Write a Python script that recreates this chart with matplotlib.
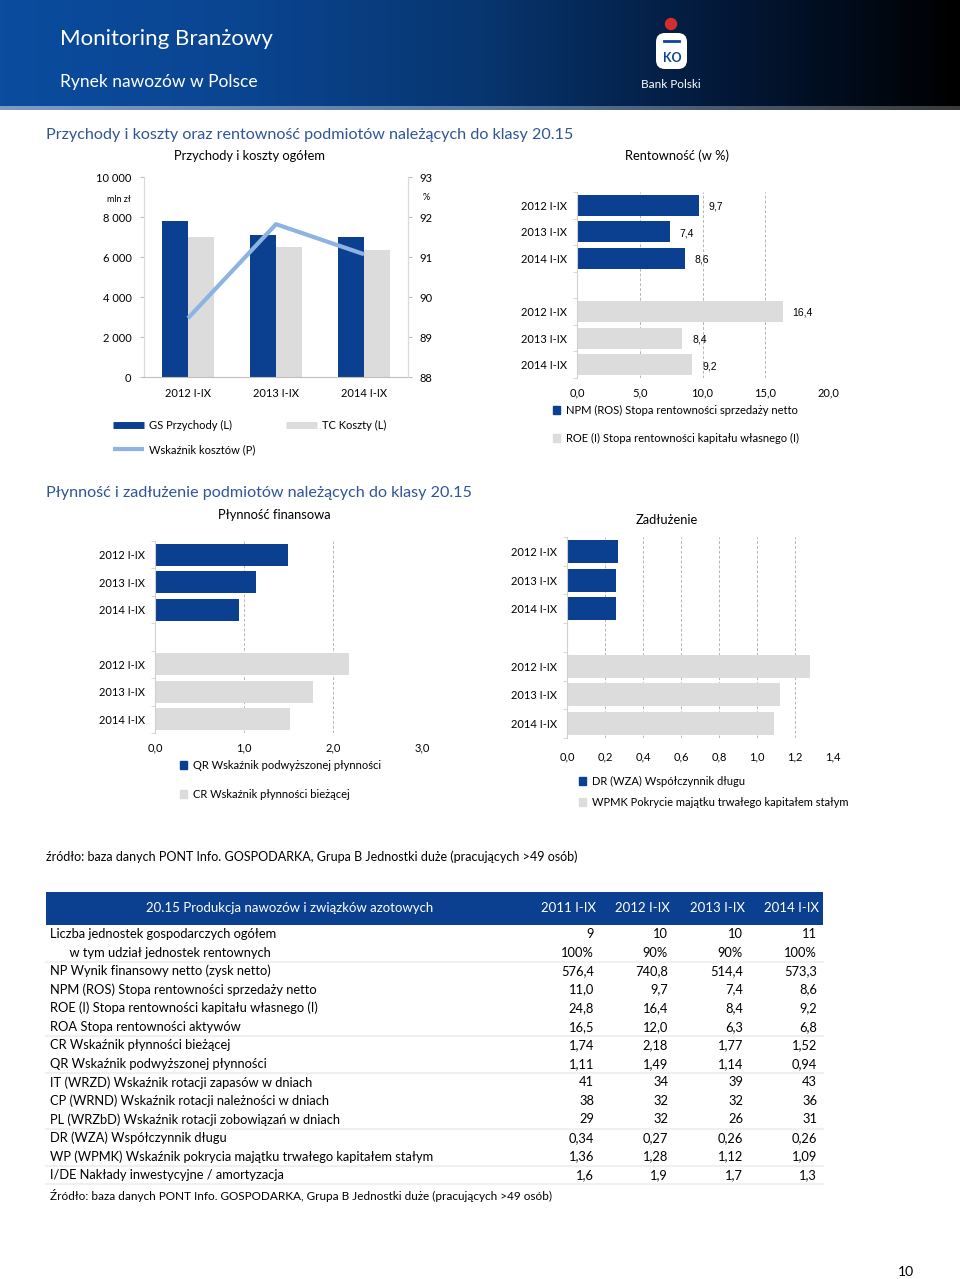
import numpy as np
import matplotlib.pyplot as plt
from matplotlib.colors import LinearSegmentedColormap
from matplotlib.lines import Line2D
from matplotlib.patches import Patch, Circle, FancyBboxPatch, Rectangle

plt.rcParams['font.family'] = ['Lato', 'DejaVu Sans']

W, H = 960, 1279
BLUE = '#0b3f8f'
GRAY = '#dcdcdc'
LINE = '#8db3e2'
TITLE = '#2f5597'

# dane do wykresów
years = ['2012 I-IX', '2013 I-IX', '2014 I-IX']
gs_przychody = [7810, 7100, 6980]
tc_koszty = [6980, 6480, 6370]
wsk_kosztow = [89.47, 91.82, 91.07]

# dane do tabeli
table_years = ['2011 I-IX', '2012 I-IX', '2013 I-IX', '2014 I-IX']
liczba = [9, 10, 10, 11]
udzial = [100, 90, 90, 100]
np_wynik = [576.4, 740.8, 514.4, 573.3]
npm = [11.0, 9.7, 7.4, 8.6]
roe = [24.8, 16.4, 8.4, 9.2]
roa = [16.5, 12.0, 6.3, 6.8]
cr = [1.74, 2.18, 1.77, 1.52]
qr = [1.11, 1.49, 1.14, 0.94]
it_wrzd = [41, 34, 39, 43]
cp_wrnd = [38, 32, 32, 36]
pl_wrzbd = [29, 32, 26, 31]
dr = [0.34, 0.27, 0.26, 0.26]
wp = [1.36, 1.28, 1.12, 1.09]
ide = [1.6, 1.9, 1.7, 1.3]


def pl(v, d=1):
    return f'{v:.{d}f}'.replace('.', ',')


fig = plt.figure(figsize=(9.6, 12.79), dpi=100)


def px_axes(x0, y0, x1, y1):
    return fig.add_axes([x0 / W, 1 - y1 / H, (x1 - x0) / W, (y1 - y0) / H])


# tło / nagłówek
bg = fig.add_axes([0, 0, 1, 1])
grad = LinearSegmentedColormap.from_list('hdr', ['#0b4c9e', '#0a4591', '#073670', '#03193a', '#000000'])
bg.imshow(np.linspace(0, 1, 256)[None, :], cmap=grad, extent=(0, W, 106, 0), aspect='auto')
strip = LinearSegmentedColormap.from_list('strip', ['#7d9cc4', '#5b7aa3', '#3a3a3a'])
bg.imshow(np.linspace(0, 1, 256)[None, :], cmap=strip, extent=(0, W, 110, 106), aspect='auto')
bg.set_xlim(0, W)
bg.set_ylim(H, 0)
bg.axis('off')

bg.text(60, 39, 'Monitoring Branżowy', color='white', fontsize=16, va='center')
bg.text(60, 82, 'Rynek nawozów w Polsce', color='white', fontsize=12.5, va='center')

# logo (uproszczone)
bg.add_patch(Circle((671, 24), 5.5, color='#d42d2d'))
bg.add_patch(FancyBboxPatch((656, 33), 31, 36, boxstyle='round,pad=0,rounding_size=9',
                            fc='white', ec='none'))
bg.plot([664, 679], [41, 41], color='#0a4591', lw=2)
bg.text(672, 58, 'KO', color='#0a4591', fontsize=9, fontweight='bold', ha='center', va='center')
bg.text(671, 84, 'Bank Polski', color='white', fontsize=8.5, ha='center', va='center')

bg.text(46, 135, 'Przychody i koszty oraz rentowność podmiotów należących do klasy 20.15',
        color=TITLE, fontsize=11.6, va='center')
bg.text(46, 493, 'Płynność i zadłużenie podmiotów należących do klasy 20.15',
        color=TITLE, fontsize=11.6, va='center')
bg.text(249, 156, 'Przychody i koszty ogółem', fontsize=9.3, ha='center', va='center')
bg.text(677, 156, 'Rentowność (w %)', fontsize=9.3, ha='center', va='center')
bg.text(274, 515, 'Płynność finansowa', fontsize=9.3, ha='center', va='center')
bg.text(667, 520, 'Zadłużenie', fontsize=9.3, ha='center', va='center')
bg.text(119, 200, 'mln zł', fontsize=6.5, ha='center', va='center')
bg.text(426, 197, '%', fontsize=6.5, ha='center', va='center')
bg.text(46, 857, 'źródło: baza danych PONT Info. GOSPODARKA, Grupa B Jednostki duże (pracujących >49 osób)',
        fontsize=9, va='center')
bg.text(906, 1272, '10', fontsize=10, ha='center', va='center')

# wykres 1: przychody i koszty
ax1 = px_axes(144, 177, 408, 377)
x = np.arange(len(years))
ax1.bar(x - 0.145, gs_przychody, width=0.29, color=BLUE, zorder=2)
ax1.bar(x + 0.145, tc_koszty, width=0.29, color=GRAY, zorder=2)
ax1.set_xlim(-0.5, 2.5)
ax1.set_ylim(0, 10000)
yt = list(range(0, 10001, 2000))
ax1.set_yticks(yt, [f'{v:,}'.replace(',', ' ') for v in yt])
ax1.set_xticks(x, years)
ax1.tick_params(axis='x', length=0, pad=8, labelsize=8)
ax1.tick_params(axis='y', length=3, pad=6, labelsize=8, color='#bfbfbf')
for s in ['top', 'right']:
    ax1.spines[s].set_visible(False)
ax1.spines['left'].set_color('#d9d9d9')
ax1.spines['bottom'].set_color('#bfbfbf')

ax1r = ax1.twinx()
ax1r.plot(x, wsk_kosztow, color=LINE, lw=3, solid_capstyle='butt')
ax1r.set_ylim(88, 93)
ax1r.set_yticks(range(88, 94))
ax1r.tick_params(axis='y', length=3, pad=5, labelsize=8, color='#bfbfbf')
for s in ['top', 'left', 'bottom']:
    ax1r.spines[s].set_visible(False)
ax1r.spines['right'].set_color('#d9d9d9')

h1 = [Line2D([], [], color=BLUE, lw=5, solid_capstyle='butt'),
      Line2D([], [], color=LINE, lw=3, solid_capstyle='butt'),
      Line2D([], [], color=GRAY, lw=5, solid_capstyle='butt')]
fig.legend(h1, ['GS Przychody (L)', 'Wskaźnik kosztów (P)', 'TC Koszty (L)'], ncol=2,
           loc='upper left', bbox_to_anchor=(113 / W, 1 - 420 / H), frameon=False,
           fontsize=8, handlelength=2.8, handletextpad=0.4, columnspacing=2.8,
           labelspacing=1.2, borderpad=0, borderaxespad=0)


# wykresy poziome
def hbar_chart(box, s1, s2, xmax, step, xpad, leg_labels, leg_xy, leg_sp, values=False):
    ax = px_axes(*box)
    pos1, pos2 = [0, 1, 2], [4, 5, 6]
    ax.barh(pos1, s1, height=0.8, color=BLUE, zorder=2)
    ax.barh(pos2, s2, height=0.8, color=GRAY, zorder=2)
    ax.set_ylim(6.5, -0.5)
    ax.set_yticks(pos1 + pos2, years + years)
    ax.set_yticks([-0.5 + i for i in range(8)], minor=True)
    ax.set_xlim(0, xmax)
    ticks = np.round(np.arange(0, xmax + step / 2, step), 2)
    ax.set_xticks(ticks, [pl(t) for t in ticks])
    ax.grid(axis='x', color='#b5b5b5', linestyle=(0, (3, 2)), lw=0.7)
    ax.set_axisbelow(True)
    for s in ['top', 'right', 'bottom']:
        ax.spines[s].set_visible(False)
    ax.spines['left'].set_color('#d0d0d0')
    ax.tick_params(axis='y', which='major', length=0, pad=7, labelsize=8)
    ax.tick_params(axis='y', which='minor', length=3, color='#d0d0d0')
    ax.tick_params(axis='x', length=0, pad=xpad, labelsize=8)
    if values:
        for p, v in zip(pos1 + pos2, list(s1) + list(s2)):
            ax.annotate(pl(v), (v, p), xytext=(7, -1), textcoords='offset points',
                        ha='left', va='center', fontsize=7.5, family=['Liberation Sans'])
    hh = [Patch(color=BLUE), Patch(color=GRAY)]
    fig.legend(hh, leg_labels, loc='upper left', bbox_to_anchor=(leg_xy[0] / W, 1 - leg_xy[1] / H),
               frameon=False, fontsize=8, handlelength=0.65, handleheight=0.65,
               handletextpad=0.5, labelspacing=leg_sp, borderpad=0, borderaxespad=0)
    return ax


hbar_chart((577, 192, 828, 378), npm[1:], roe[1:], 20, 5, 7,
           ['NPM (ROS) Stopa rentowności sprzedaży netto',
            'ROE (I) Stopa rentowności kapitału własnego (I)'], (553, 405), 1.5, values=True)
hbar_chart((155, 541, 422, 733), qr[1:], cr[1:], 3, 1, 7,
           ['QR Wskaźnik podwyższonej płynności', 'CR Wskaźnik płynności bieżącej'], (180, 760), 1.6)
hbar_chart((567, 537, 833, 738), dr[1:], wp[1:], 1.4, 0.2, 10,
           ['DR (WZA) Współczynnik długu', 'WPMK Pokrycie majątku trwałego kapitałem stałym'], (579, 776), 0.9)

# tabela
bg.add_patch(Rectangle((46, 892), 777, 33, fc=BLUE, ec='none'))
bg.text(290, 908, '20.15 Produkcja nawozów i związków azotowych', color='white',
        fontsize=9.5, ha='center', va='center')
col_right = [594, 668, 743, 817]
for cx, yl in zip(col_right, table_years):
    bg.text(cx + 2, 908, yl, color='white', fontsize=9.5, ha='right', va='center')

f_int = lambda v: f'{v:d}'
f_pct = lambda v: f'{v:d}%'
f_1 = lambda v: pl(v, 1)
f_2 = lambda v: pl(v, 2)
rows = [
    ('Liczba jednostek gospodarczych ogółem', liczba, f_int),
    ('      w tym udział jednostek rentownych', udzial, f_pct),
    ('NP Wynik finansowy netto (zysk netto)', np_wynik, f_1),
    ('NPM (ROS) Stopa rentowności sprzedaży netto', npm, f_1),
    ('ROE (I) Stopa rentowności kapitału własnego (I)', roe, f_1),
    ('ROA Stopa rentowności aktywów', roa, f_1),
    ('CR Wskaźnik płynności bieżącej', cr, f_2),
    ('QR Wskaźnik podwyższonej płynności', qr, f_2),
    ('IT (WRZD) Wskaźnik rotacji zapasów w dniach', it_wrzd, f_int),
    ('CP (WRND) Wskaźnik rotacji należności w dniach', cp_wrnd, f_int),
    ('PL (WRZbD) Wskaźnik rotacji zobowiązań w dniach', pl_wrzbd, f_int),
    ('DR (WZA) Współczynnik długu', dr, f_2),
    ('WP (WPMK) Wskaźnik pokrycia majątku trwałego kapitałem stałym', wp, f_2),
    ('I/DE Nakłady inwestycyjne / amortyzacja', ide, f_1),
]
sep_after = [1, 5, 7, 10, 12, 13]
for i, (lab, vals, fmt) in enumerate(rows):
    y = 934 + i * 18.54
    bg.text(50, y, lab, fontsize=9.3, va='center')
    for cx, v in zip(col_right, vals):
        bg.text(cx, y, fmt(v), fontsize=9.3, ha='right', va='center')
    if i in sep_after:
        bg.plot([46, 823], [y + 9.3, y + 9.3], color='#f0f0f0', lw=1.5)
bg.text(50, 1196, 'Źródło: baza danych PONT Info. GOSPODARKA, Grupa B Jednostki duże (pracujących >49 osób)',
        fontsize=8.5, va='center')

fig.savefig('out.png', dpi=100)
